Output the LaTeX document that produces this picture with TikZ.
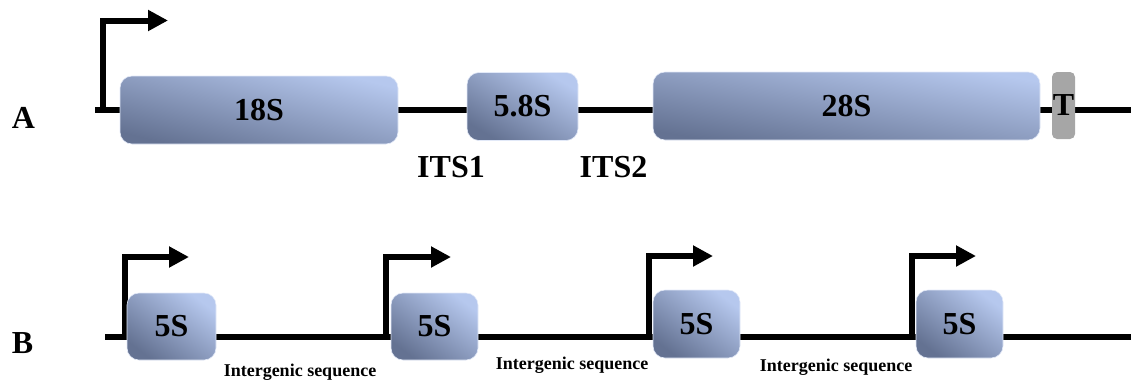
\documentclass[tikz,border=0pt]{standalone}
\usepackage{fontspec}
\setmainfont{Liberation Serif}
\usetikzlibrary{arrows.meta,backgrounds}
\definecolor{geneDark}{RGB}{100,114,146}
\definecolor{geneLight}{RGB}{182,200,238}
\definecolor{termGray}{RGB}{166,166,166}

\begin{document}
\begin{tikzpicture}[x=1pt,y=-1pt,font=\bfseries\fontsize{32}{32}\selectfont,
  gene/.style={rounded corners=12pt,inner sep=0pt,draw=geneLight!40!white,line width=0.6pt,
    bottom color=geneDark,top color=geneLight,shading angle=#1},
  gene/.default=-37,
  term/.style={rounded corners=5pt,inner sep=0pt,fill=termGray},
  dna/.style={line width=6.5pt},
  promoter/.style={line width=6pt,line join=miter,-{Triangle[length=20pt,width=20pt]}},
  spacer/.style={font=\bfseries\fontsize{18}{18}\selectfont,inner sep=0pt}]
  \useasboundingbox (0,0) rectangle (1131,381);

  % A: 45S rDNA unit
  \node (labA) at (23.5,118) {A};
  \node[gene=-14,minimum width=278pt,minimum height=68pt] (r18) at (259,110) {18S};
  \node[gene=-31,minimum width=111pt,minimum height=68pt] (r58) at (522.5,106.5) {5.8S};
  \node[gene=-10,minimum width=387pt,minimum height=68pt] (r28) at (846.5,106) {28S};
  \node[term,minimum width=23pt,minimum height=67pt] (term) at (1063.5,105.5) {T};
  \node (its1) at (451,167.5) {ITS1};
  \node (its2) at (613.5,167.5) {ITS2};
  \coordinate (startA) at (95,110);
  \coordinate (endA) at (1131,110);
  \coordinate (tssA) at (102.5,110);
  \coordinate (tipA) at (168,20.5);

  % B: 5S rDNA repeats
  \node (labB) at (22.5,343) {B};
  \node[gene,minimum width=89pt,minimum height=67pt] (r5a) at (171.5,326.5) {5S};
  \node[gene,minimum width=87pt,minimum height=67pt] (r5b) at (434.5,326.5) {5S};
  \node[gene,minimum width=87pt,minimum height=68pt] (r5c) at (696.5,324) {5S};
  \node[gene,minimum width=87pt,minimum height=68pt] (r5d) at (959.5,324) {5S};
  \node[spacer] (igs1) at (300,372) {Intergenic sequence};
  \node[spacer] (igs2) at (572,365) {Intergenic sequence};
  \node[spacer] (igs3) at (836,367) {Intergenic sequence};
  \coordinate (startB) at (105,337);
  \coordinate (endB) at (1131,337);
  \coordinate (tss1) at (125,337);
  \coordinate (tip1) at (189,257);
  \coordinate (tss2) at (386,337);
  \coordinate (tip2) at (451,257);
  \coordinate (tss3) at (648.5,337);
  \coordinate (tip3) at (713,256);
  \coordinate (tss4) at (911.5,337);
  \coordinate (tip4) at (976,256);

  \begin{scope}[on background layer]
    \draw[dna] (startA) -- (endA);
    \draw[promoter] (tssA) |- (tipA);
    \draw[dna] (startB) -- (endB);
    \draw[promoter] (tss1) |- (tip1);
    \draw[promoter] (tss2) |- (tip2);
    \draw[promoter] (tss3) |- (tip3);
    \draw[promoter] (tss4) |- (tip4);
  \end{scope}
\end{tikzpicture}
\end{document}
